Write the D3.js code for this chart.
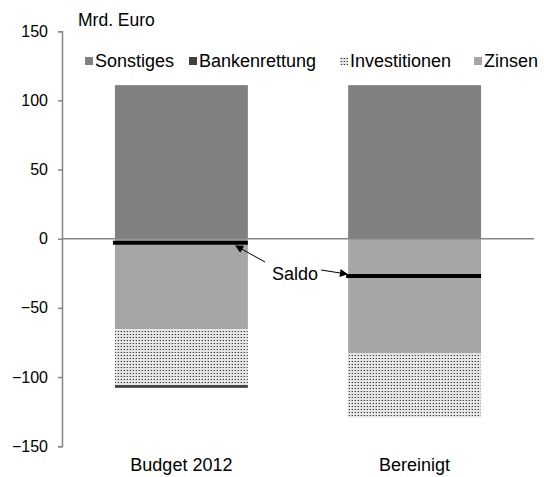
<!DOCTYPE html>
<meta charset="utf-8">
<style>
    body { margin: 0; overflow: hidden; background: #fff; }
    text { font-family: "Liberation Sans", Arial, sans-serif; fill: #000; }
</style>
<svg id="canvas" width="544" height="477"></svg>
<script src="https://d3js.org/d3.v7.min.js"></script>
<script>

    // data
    var categories = ["Budget 2012", "Bereinigt"];
    var sonstiges = [111, 111];
    var bankenrettung = [-2, 0];
    var investitionen = [-40.3, -46.4];
    var zinsen = [-65.5, -83];
    var saldo = [-3, -27];
    var yTicks = [150, 100, 50, 0, -50, -100, -150];

    var legendKeys = ["Sonstiges", "Bankenrettung", "Investitionen", "Zinsen"];
    var stackKeys = ["Sonstiges", "Zinsen", "Investitionen", "Bankenrettung"];

    var rows = categories.map(function(c, i) {
        return {
            cat: c,
            Sonstiges: sonstiges[i],
            Bankenrettung: bankenrettung[i],
            Investitionen: investitionen[i],
            Zinsen: zinsen[i],
            saldo: saldo[i]
        };
    });

    var svg = d3.select("svg");

    // dotted fill for Investitionen
    var defs = svg.append("defs");
    var pat = defs.append("pattern")
        .attr("id", "dots")
        .attr("patternUnits", "userSpaceOnUse")
        .attr("width", 3).attr("height", 3);
    pat.append("rect").attr("width", 3).attr("height", 3).attr("fill", "#e6e6e6");
    pat.append("rect").attr("x", 1).attr("y", 1).attr("width", 1).attr("height", 1).attr("fill", "#3a3a3a");
    pat.append("rect").attr("x", 0).attr("y", 1).attr("width", 1).attr("height", 1).attr("fill", "#b0b0b0");

    var color = {
        Sonstiges: "#808080",
        Bankenrettung: "#404040",
        Investitionen: "url(#dots)",
        Zinsen: "#a6a6a6"
    };

    var y = d3.scaleLinear().domain([-150, 150]).range([446.2, 31.2]);
    var x = d3.scaleBand().domain(categories).range([62, 534])
        .paddingInner(0.43).paddingOuter(0.227);

    var series = d3.stack().keys(stackKeys).offset(d3.stackOffsetDiverging)(rows);

    svg.append("g")
        .selectAll("g")
        .data(series)
        .enter().append("g")
        .attr("fill", function(d) { return color[d.key]; })
        .selectAll("rect")
        .data(function(d) { return d; })
        .enter().append("rect")
        .attr("x", function(d) { return x(d.data.cat); })
        .attr("width", x.bandwidth())
        .attr("y", function(d) { return y(Math.max(d[0], d[1])); })
        .attr("height", function(d) { return Math.abs(y(d[0]) - y(d[1])); });

    // y axis
    var yAxis = svg.append("g")
        .attr("transform", "translate(62,0)")
        .call(d3.axisLeft(y).tickValues(yTicks).tickSize(4).tickPadding(10));
    yAxis.select(".domain").attr("stroke", "#868686").attr("stroke-width", 1.5);
    yAxis.selectAll(".tick line").attr("stroke", "#868686").attr("stroke-width", 1.5);
    yAxis.selectAll(".tick text")
        .style("font-family", "Liberation Sans, Arial, sans-serif")
        .style("font-size", "16px").attr("fill", "#000");

    // zero line
    svg.append("line")
        .attr("x1", 62).attr("x2", 534)
        .attr("y1", y(0)).attr("y2", y(0))
        .attr("stroke", "#868686").attr("stroke-width", 1.5);

    // saldo markers
    svg.append("g")
        .selectAll("line")
        .data(rows)
        .enter().append("line")
        .attr("x1", function(d) { return x(d.cat) - 2; })
        .attr("x2", function(d) { return x(d.cat) + x.bandwidth(); })
        .attr("y1", function(d) { return y(d.saldo); })
        .attr("y2", function(d) { return y(d.saldo); })
        .attr("stroke", "#000").attr("stroke-width", 4);

    // category labels
    svg.append("g")
        .selectAll("text")
        .data(categories)
        .enter().append("text")
        .attr("x", function(d) { return x(d) + x.bandwidth() / 2; })
        .attr("y", 471)
        .attr("text-anchor", "middle")
        .style("font-size", "18px")
        .text(function(d) { return d; });

    // unit label
    svg.append("text").attr("x", 78).attr("y", 26)
        .style("font-size", "17.5px").text("Mrd. Euro");

    // legend
    var legendX = [85, 189, 340, 474];
    var legend = svg.append("g")
        .selectAll("g")
        .data(legendKeys)
        .enter().append("g")
        .attr("transform", function(d, i) { return "translate(" + legendX[i] + ",57)"; });
    legend.append("rect")
        .attr("width", 8).attr("height", 8)
        .attr("fill", function(d) { return color[d]; });
    legend.append("text")
        .attr("x", 10).attr("y", 10)
        .style("font-size", "18px")
        .text(function(d) { return d; });

    // Saldo annotation
    defs.append("marker")
        .attr("id", "arrow")
        .attr("viewBox", "0 0 10 10")
        .attr("refX", 9).attr("refY", 5)
        .attr("markerWidth", 9).attr("markerHeight", 8)
        .attr("markerUnits", "userSpaceOnUse")
        .attr("orient", "auto")
        .append("path").attr("d", "M0,0 L10,5 L0,10 z").attr("fill", "#000");

    svg.append("text").attr("x", 272).attr("y", 279.5)
        .style("font-size", "18px").text("Saldo");

    var b0 = rows[0], b1 = rows[1];
    svg.append("line")
        .attr("x1", 265).attr("y1", 262)
        .attr("x2", x(b0.cat) + x.bandwidth() - 12).attr("y2", y(b0.saldo) + 3)
        .attr("stroke", "#000").attr("stroke-width", 1)
        .attr("marker-end", "url(#arrow)");
    svg.append("line")
        .attr("x1", 321).attr("y1", 270)
        .attr("x2", x(b1.cat) - 1).attr("y2", y(b1.saldo) - 2)
        .attr("stroke", "#000").attr("stroke-width", 1)
        .attr("marker-end", "url(#arrow)");

</script>
